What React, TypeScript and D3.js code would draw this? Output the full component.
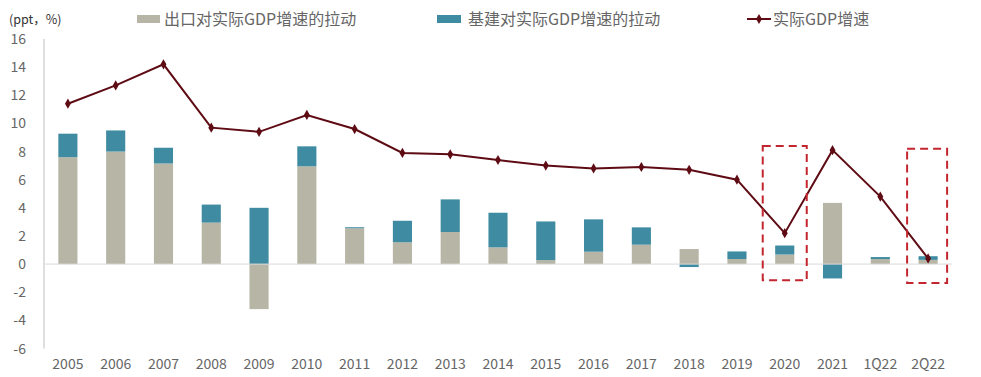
import React from "react";
import * as d3 from "d3";

const categories = ["2005","2006","2007","2008","2009","2010","2011","2012","2013","2014","2015","2016","2017","2018","2019","2020","2021","1Q22","2Q22"];
const exportPull = [7.6,8.0,7.15,2.95,-3.2,6.95,2.55,1.55,2.28,1.19,0.28,0.88,1.38,1.07,0.36,0.68,4.35,0.36,0.3];
const infraPull = [1.67,1.5,1.12,1.28,4.0,1.42,0.07,1.53,2.32,2.46,2.75,2.3,1.23,-0.21,0.54,0.64,-1.02,0.14,0.26];
const gdpGrowth = [11.4,12.7,14.2,9.7,9.4,10.6,9.6,7.9,7.8,7.4,7.0,6.8,6.9,6.7,6.0,2.2,8.1,4.8,0.4];
const yTicks = [-6,-4,-2,0,2,4,6,8,10,12,14,16];
const highlighted = ["2020","2Q22"];
const legendLabels = ["出口对实际GDP增速的拉动","基建对实际GDP增速的拉动","实际GDP增速"];

const W = 981, H = 377;
const font = "'Noto Sans CJK SC', 'Liberation Sans', Arial, sans-serif";
const grayC = "#b7b5a5";
const tealC = "#3f8ba2";
const lineC = "#5e0b14";

export default function App() {
  const x = d3.scaleBand<string>().domain(categories).range([44, 952]).paddingInner(0.6).paddingOuter(0.3);
  const y = d3.scaleLinear().domain([-6, 16]).range([348.5, 39]);
  const bw = x.bandwidth();
  const cx = (c: string) => (x(c) as number) + bw / 2;

  const bars: JSX.Element[] = [];
  categories.forEach((c, i) => {
    const e = exportPull[i], inf = infraPull[i];
    const e0 = Math.min(0, e), e1 = Math.max(0, e);
    bars.push(<rect key={"e" + c} x={x(c)} width={bw} y={y(e1)} height={y(e0) - y(e1)} fill={grayC} />);
    let base = 0;
    if (inf >= 0) base = e >= 0 ? e : 0; else base = e < 0 ? e : 0;
    const a = base, b = base + inf;
    const lo = Math.min(a, b), hi = Math.max(a, b);
    bars.push(<rect key={"i" + c} x={x(c)} width={bw} y={y(hi)} height={y(lo) - y(hi)} fill={tealC} />);
  });

  const line = d3.line<number>().x((_, i) => cx(categories[i])).y(d => y(d));
  const diamond = d3.symbol().type(d3.symbolDiamond).size(30)();

  return (
    <svg width={W} height={H} style={{ position: "absolute", left: 0, top: 0, background: "#fff" }} fontFamily={font}>
      <text x={9} y={24} fontSize={12.5} fill="#333">(ppt，%)</text>
      <rect x={137} y={15} width={23} height={8} fill={grayC} />
      <text x={164} y={24.5} fontSize={16} fill="#666">{legendLabels[0]}</text>
      <rect x={437} y={15} width={24} height={8} fill={tealC} />
      <text x={468} y={24.5} fontSize={16} fill="#666">{legendLabels[1]}</text>
      <line x1={747} x2={771} y1={19} y2={19} stroke={lineC} strokeWidth={2} />
      <path d={diamond} transform="translate(759,19)" fill={lineC} />
      <text x={773} y={24.5} fontSize={16} fill="#666">{legendLabels[2]}</text>

      <line x1={44} x2={44} y1={y(16)} y2={y(-6)} stroke="#bfbfbf" strokeWidth={1} />
      {yTicks.map(t => (
        <text key={t} x={26} y={y(t) + 5} fontSize={14} textAnchor="end" fill="#666">{t}</text>
      ))}
      {bars}
      <line x1={44} x2={952} y1={y(0)} y2={y(0)} stroke="#d9d9d9" strokeWidth={1} />

      {categories.map(c => (
        <text key={c} x={cx(c)} y={369} fontSize={14} textAnchor="middle" fill="#666">{c}</text>
      ))}

      <path d={line(gdpGrowth) || ""} fill="none" stroke={lineC} strokeWidth={2} />
      {gdpGrowth.map((v, i) => (
        <path key={i} d={diamond} transform={`translate(${cx(categories[i])},${y(v)})`} fill={lineC} />
      ))}

      {highlighted.map((c, k) => (
        <rect key={c} x={cx(c) - 22 + k} y={y(k === 0 ? 8.4 : 8.2)} width={k === 0 ? 44 : 40}
          height={y(k === 0 ? -1.15 : -1.35) - y(k === 0 ? 8.4 : 8.2)}
          fill="none" stroke="#c3262e" strokeWidth={2} strokeDasharray="8,5" />
      ))}
    </svg>
  );
}
